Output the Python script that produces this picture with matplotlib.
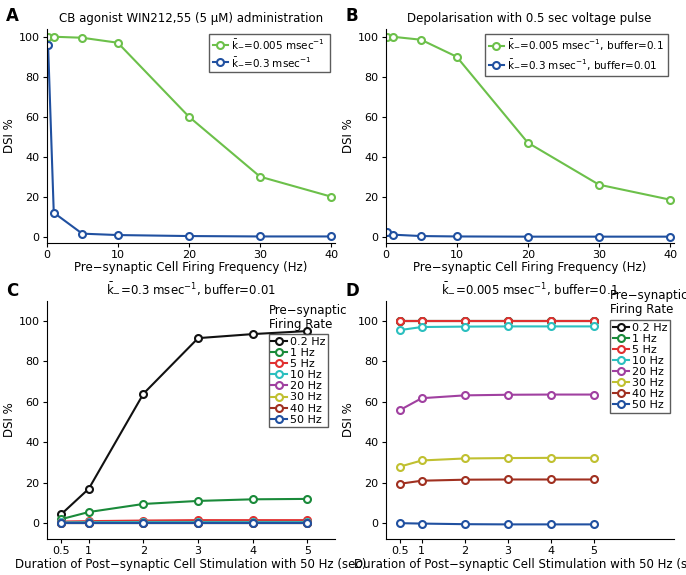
import matplotlib
matplotlib.use("Agg")
import matplotlib.pyplot as plt

freq = [0.2, 1, 5, 10, 20, 30, 40]
A_slow = [100, 100, 99.5, 97, 60, 30, 20]
A_fast = [96, 12, 1.5, 0.8, 0.3, 0.1, 0.1]
B_slow = [100, 100, 98.5, 90, 47, 26, 18.5]
B_fast = [2.5, 1, 0.3, 0.1, 0.0, 0.0, 0.0]

dur = [0.5, 1, 2, 3, 4, 5]
rates = ["0.2 Hz", "1 Hz", "5 Hz", "10 Hz", "20 Hz", "30 Hz", "40 Hz", "50 Hz"]
C_vals = [
    [4.5, 17, 64, 91.5, 93.5, 95],
    [2, 5.5, 9.5, 11, 11.8, 12],
    [0.8, 1.0, 1.3, 1.5, 1.5, 1.5],
    [0.4, 0.5, 0.6, 0.6, 0.6, 0.6],
    [0.2, 0.2, 0.2, 0.2, 0.2, 0.2],
    [0.1, 0.1, 0.1, 0.1, 0.1, 0.1],
    [0.05, 0.05, 0.05, 0.05, 0.05, 0.05],
    [0.0, 0.0, 0.0, 0.0, 0.0, 0.0],
]
D_vals = [
    [100, 100, 100, 100, 100, 100],
    [100, 100, 100, 100, 100, 100],
    [99.8, 99.8, 99.8, 99.8, 99.8, 99.8],
    [95.5, 97, 97.2, 97.3, 97.3, 97.3],
    [56, 61.8, 63.2, 63.5, 63.6, 63.6],
    [28, 31, 32, 32.2, 32.3, 32.3],
    [19.5, 21, 21.5, 21.6, 21.6, 21.6],
    [0, -0.2, -0.5, -0.6, -0.6, -0.6],
]
colors = ["#111111", "#1a8a3a", "#e03030", "#2bbfbf", "#a040a0", "#c0c030", "#a03020", "#2050a0"]
GREEN = "#6cc04a"
BLUE = "#2050a0"

fig = plt.figure(figsize=(6.86, 5.75), dpi=100)
mk = dict(marker="o", mfc="white", ms=5, mew=1.5, lw=1.5)

def style(ax):
    for s in ["top", "right"]:
        ax.spines[s].set_visible(False)
    ax.tick_params(labelsize=8, length=3, pad=2)

axA = fig.add_axes([0.068, 0.578, 0.42, 0.372])
axB = fig.add_axes([0.562, 0.578, 0.42, 0.372])
for ax, s, f, title, lab, lbl in [
    (axA, A_slow, A_fast, "CB agonist WIN212,55 (5 \u00b5M) administration", "A",
     [r"$\bar{\mathrm{k}}_{-}$=0.005 msec$^{-1}$", r"$\bar{\mathrm{k}}_{-}$=0.3 msec$^{-1}$"]),
    (axB, B_slow, B_fast, "Depolarisation with 0.5 sec voltage pulse", "B",
     [r"$\bar{\mathrm{k}}_{-}$=0.005 msec$^{-1}$, buffer=0.1", r"$\bar{\mathrm{k}}_{-}$=0.3 msec$^{-1}$, buffer=0.01"]),
]:
    ax.plot(freq, s, color=GREEN, label=lbl[0], **mk)
    ax.plot(freq, f, color=BLUE, label=lbl[1], **mk)
    ax.set_xlim(0, 40.5)
    ax.set_ylim(-3, 104)
    ax.set_xticks([0, 10, 20, 30, 40])
    ax.set_yticks([0, 20, 40, 60, 80, 100])
    ax.set_xlabel("Pre\u2212synaptic Cell Firing Frequency (Hz)", fontsize=8.5, labelpad=1)
    ax.set_ylabel("DSI %", fontsize=8.5, labelpad=2)
    ax.set_title(title, fontsize=8.5, pad=5)
    style(ax)
    ax.legend(loc="upper right", fontsize=7.5, fancybox=False, edgecolor="#333333",
              handlelength=1.5, handletextpad=0.3, borderpad=0.4)
    ax.text(-0.14, 1.06, lab, transform=ax.transAxes, fontsize=12, fontweight="bold", va="center")

axC = fig.add_axes([0.068, 0.062, 0.42, 0.415])
axD = fig.add_axes([0.562, 0.062, 0.42, 0.415])
for ax, vals, title, lab, xlim, ylim, lx, ly in [
    (axC, C_vals, r"$\bar{\mathrm{k}}_{-}$=0.3 msec$^{-1}$, buffer=0.01", "C", (0.23, 5.5), (-8, 110), 0.77, 0.86),
    (axD, D_vals, r"$\bar{\mathrm{k}}_{-}$=0.005 msec$^{-1}$, buffer=0.1", "D", (0.16, 6.85), (-8, 110), 0.78, 0.92),
]:
    for v, c, r in zip(vals, colors, rates):
        ax.plot(dur, v, color=c, label=r, **mk)
    ax.set_xlim(*xlim)
    ax.set_ylim(*ylim)
    ax.set_xticks(dur)
    ax.set_xticklabels(["0.5", "1", "2", "3", "4", "5"])
    ax.set_yticks([0, 20, 40, 60, 80, 100])
    ax.set_xlabel("Duration of Post\u2212synaptic Cell Stimulation with 50 Hz (sec)", fontsize=8.5, labelpad=1)
    ax.set_ylabel("DSI %", fontsize=8.5, labelpad=2)
    ax.set_title(title, fontsize=8.5, pad=5)
    style(ax)
    ax.legend(loc="upper left", bbox_to_anchor=(lx, ly), fontsize=8, fancybox=False,
              edgecolor="#333333", handlelength=1.4, handletextpad=0.3, borderpad=0.25,
              labelspacing=0.1, borderaxespad=0)
    ax.text(lx, ly + 0.015, "Pre\u2212synaptic\nFiring Rate", transform=ax.transAxes,
            fontsize=8.5, va="bottom", ha="left", linespacing=1.1)
    ax.text(-0.14, 1.04, lab, transform=ax.transAxes, fontsize=12, fontweight="bold", va="center")

fig.savefig("out.png", dpi=100)
